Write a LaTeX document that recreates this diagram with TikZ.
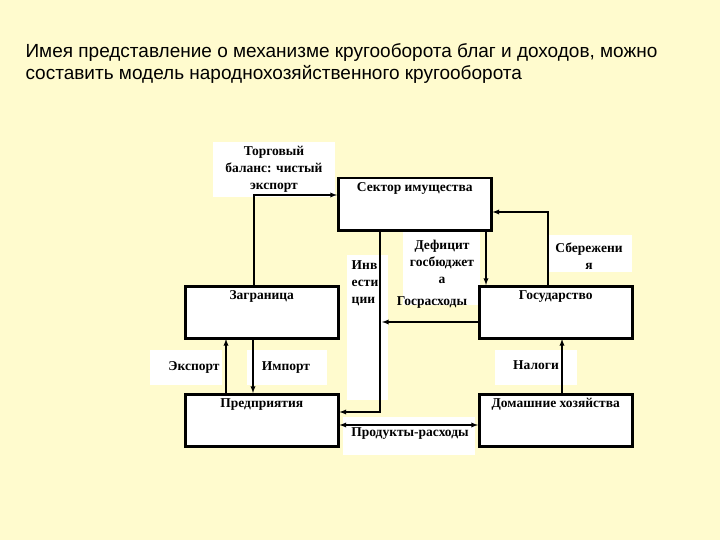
\documentclass[tikz,border=0pt]{standalone}
\usepackage{fontspec}
\setmainfont{Liberation Serif}
\newfontfamily\titlefont{Liberation Sans}
\begin{document}
\begin{tikzpicture}[x=1pt,y=-1pt,
  box/.style={draw,line width=2.5pt,fill=white,minimum width=153pt,minimum height=52pt,anchor=north west,inner sep=0pt},
  lbl/.style={fill=white,align=center,font=\fontsize{13.5}{17}\selectfont\bfseries,inner sep=0pt},
  arr/.style={line width=1.3pt,-latex}]
\definecolor{bg}{RGB}{255,251,206}
\fill[bg] (0,0) rectangle (720,540);
\useasboundingbox (0,0) rectangle (720,540);
\node[anchor=north west,align=left,font=\titlefont\fontsize{19}{22}\selectfont] (title) at (22,40)
 {Имея представление о механизме кругооборота благ и доходов, можно\\составить модель народнохозяйственного кругооборота};
% label backgrounds
\fill[white] (213,142) rectangle (335,197);
\fill[white] (547,235) rectangle (632,272);
\fill[white] (347,255) rectangle (388,400);
\fill[white] (403,232) rectangle (480,305);
\fill[white] (150,350) rectangle (222,385);
\fill[white] (247,350) rectangle (327,385);
\fill[white] (495,350) rectangle (577,385);
\fill[white] (343,417) rectangle (475,455);
\node[box] (sek) at (337,177) {};
\node[box] (zag) at (184,285) {};
\node[box] (gos) at (478,285) {};
\node[box] (pre) at (184,393) {};
\node[box] (dom) at (478,393) {};
\node[lbl,anchor=north] at ([yshift=-5pt]sek.north) {Сектор имущества};
\node[lbl,anchor=north] at ([yshift=-5pt]zag.north) {Заграница};
\node[lbl,anchor=north] at ([yshift=-5pt]gos.north) {Государство};
\node[lbl,anchor=north] at ([yshift=-5pt]pre.north) {Предприятия};
\node[lbl,anchor=north] at ([yshift=-5pt]dom.north) {Домашние хозяйства};
\node[lbl,fill=none] (t1) at (274,169) {Торговый\\баланс: чистый\\экспорт};
\node[lbl,fill=none] (t2) at (589,256) {Сбережени\\я};
\node[lbl,fill=none,align=left] (t3) at (365,283) {Инв\\ести\\ции};
\node[lbl,fill=none] (t4) at (442,262) {Дефицит\\госбюджет\\а};
\node[lbl,fill=none] (t5) at (432,303) {Госрасходы};
\node[lbl,fill=none] (t6) at (194,367) {Экспорт};
\node[lbl,fill=none] (t7) at (286,368) {Импорт};
\node[lbl,fill=none] (t8) at (536,365) {Налоги};
\node[lbl,fill=none] (t9) at (410,434) {Продукты-расходы};
\coordinate (c1) at (254,195);
\draw[arr] (254,285) -- (c1) -- (sek.west |- c1);
\coordinate (c2) at (380,412);
\draw[arr] (380,231) -- (c2) -- (pre.east |- c2);
\draw[arr] (486,231) -- (486,285);
\coordinate (c3) at (548,212);
\draw[arr] (548,285) -- (c3) -- (sek.east |- c3);
\coordinate (c4) at (382,322);
\draw[arr] (gos.west |- c4) -- (c4);
\draw[arr] (226,393) -- (226,339);
\draw[arr] (253,339) -- (253,393);
\draw[arr] (562,393) -- (562,339);
\draw[line width=1.3pt,latex-latex] (pre.east |- 0,425) -- (dom.west |- 0,425);
\end{tikzpicture}
\end{document}
